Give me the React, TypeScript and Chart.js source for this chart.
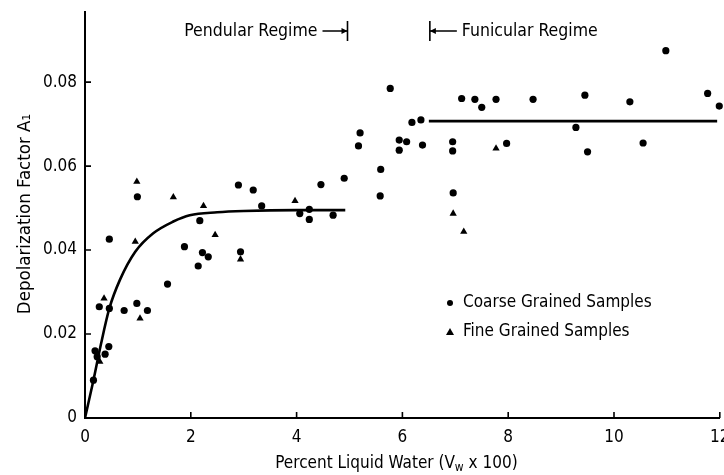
import React, { useEffect, useRef } from 'react';
import { Chart, registerables } from 'chart.js';

Chart.register(...registerables);

// ---- Data ----
const xTicks = [0, 2, 4, 6, 8, 10, 12];
const yTicks = [0, 0.02, 0.04, 0.06, 0.08];

const coarseX = [
  0.16, 0.19, 0.23, 0.38, 0.45, 0.27, 0.46, 0.74, 0.98, 1.18,
  0.46, 0.99, 1.56, 1.88, 2.14, 2.22, 2.33, 2.17, 2.9, 3.18,
  2.94, 3.34, 4.06, 4.24, 4.24, 4.69, 4.46, 4.9, 5.2, 5.17,
  5.59, 5.58, 5.77, 5.94, 6.08, 5.94, 6.38, 6.18, 6.35, 6.95,
  6.95, 6.96, 7.12, 7.37, 7.5, 7.77, 8.47, 9.45, 10.3, 10.98,
  11.77, 11.99, 9.28, 7.97, 9.5, 10.55,
];
const coarseY = [
  0.009, 0.016, 0.0146, 0.0152, 0.017, 0.0265, 0.0261, 0.0256, 0.0273, 0.0256,
  0.0426, 0.0527, 0.0319, 0.0408, 0.0362, 0.0394, 0.0384, 0.047, 0.0555, 0.0543,
  0.0396, 0.0505, 0.0487, 0.0497, 0.0473, 0.0483, 0.0556, 0.0571, 0.0679, 0.0648,
  0.0592, 0.0529, 0.0785, 0.0662, 0.0658, 0.0638, 0.065, 0.0704, 0.071, 0.0658,
  0.0636, 0.0536, 0.0761, 0.0759, 0.074, 0.0759, 0.0759, 0.0769, 0.0753, 0.0875,
  0.0773, 0.0743, 0.0692, 0.0654, 0.0634, 0.0655,
];

const fineX = [0.28, 0.36, 0.95, 0.98, 1.04, 1.67, 2.24, 2.46, 2.94, 3.97, 6.96, 7.16, 7.77];
const fineY = [0.0134, 0.0285, 0.042, 0.0563, 0.0237, 0.0526, 0.0505, 0.0436, 0.0378, 0.0517, 0.0487, 0.0444, 0.0642];

const pendularX = [0, 0.16, 0.3, 0.46, 0.66, 0.95, 1.29, 1.67, 1.98, 2.5, 3.0, 4.0, 4.92];
const pendularY = [0, 0.009, 0.0175, 0.0261, 0.0329, 0.0396, 0.044, 0.0468, 0.0483, 0.049, 0.0493, 0.0495, 0.0495];

const funicularX = [6.5, 11.95];
const funicularY = [0.0707, 0.0707];

const pendularEnd = 5;
const funicularStart = 6.5;

const FONT = '"DejaVu Sans Condensed", "Liberation Sans Narrow", "DejaVu Sans", sans-serif';

const toPts = (xs: number[], ys: number[]) => xs.map((v, i) => ({ x: v, y: ys[i] }));

const annotPlugin = {
  id: 'annot',
  afterDraw(chart: any) {
    const { ctx, chartArea, scales } = chart;
    const x = scales.x;
    const y = scales.y;
    ctx.save();
    ctx.strokeStyle = '#000';
    ctx.fillStyle = '#000';
    ctx.lineWidth = 1.6;

    // inward tick marks
    ctx.beginPath();
    for (const v of xTicks.slice(1)) {
      const px = x.getPixelForValue(v);
      ctx.moveTo(px, chartArea.bottom);
      ctx.lineTo(px, chartArea.bottom - 6);
    }
    for (const v of yTicks.slice(1)) {
      const py = y.getPixelForValue(v);
      ctx.moveTo(chartArea.left, py);
      ctx.lineTo(chartArea.left + 6, py);
    }
    ctx.stroke();

    // regime annotations
    ctx.font = `17.5px ${FONT}`;
    ctx.textBaseline = 'middle';
    const ty = chartArea.top + 19;
    const pX = x.getPixelForValue(pendularEnd) - 2;
    ctx.textAlign = 'right';
    ctx.fillText('Pendular Regime', pX - 30, ty);
    ctx.beginPath();
    ctx.moveTo(pX - 25, ty);
    ctx.lineTo(pX, ty);
    ctx.moveTo(pX, ty - 10);
    ctx.lineTo(pX, ty + 10);
    ctx.stroke();
    ctx.beginPath();
    ctx.moveTo(pX, ty);
    ctx.lineTo(pX - 6, ty - 3);
    ctx.lineTo(pX - 6, ty + 3);
    ctx.closePath();
    ctx.fill();

    const fX = x.getPixelForValue(funicularStart) + 1;
    ctx.beginPath();
    ctx.moveTo(fX, ty - 10);
    ctx.lineTo(fX, ty + 10);
    ctx.moveTo(fX, ty);
    ctx.lineTo(fX + 27, ty);
    ctx.stroke();
    ctx.beginPath();
    ctx.moveTo(fX, ty);
    ctx.lineTo(fX + 6, ty - 3);
    ctx.lineTo(fX + 6, ty + 3);
    ctx.closePath();
    ctx.fill();
    ctx.textAlign = 'left';
    ctx.fillText('Funicular Regime', fX + 32, ty);

    // legend
    const lx = chartArea.left + 365;
    const ly1 = chartArea.top + 291;
    const ly2 = chartArea.top + 320;
    ctx.beginPath();
    ctx.arc(lx, ly1, 3, 0, Math.PI * 2);
    ctx.fill();
    ctx.beginPath();
    ctx.moveTo(lx, ly2 - 4);
    ctx.lineTo(lx + 4, ly2 + 3);
    ctx.lineTo(lx - 4, ly2 + 3);
    ctx.closePath();
    ctx.fill();
    ctx.font = `17px ${FONT}`;
    ctx.fillText('Coarse Grained Samples', lx + 13, ly1);
    ctx.fillText('Fine Grained Samples', lx + 13, ly2);

    // x axis title with subscript
    const cx = (chartArea.left + chartArea.right) / 2 - 6;
    const tyx = chartArea.bottom + 46;
    const p1 = 'Percent Liquid Water (V';
    const p2 = 'w';
    const p3 = ' x 100)';
    ctx.font = `17px ${FONT}`;
    const w1 = ctx.measureText(p1).width;
    const w3 = ctx.measureText(p3).width;
    ctx.font = `12px ${FONT}`;
    const w2 = ctx.measureText(p2).width;
    let sx = cx - (w1 + w2 + w3) / 2;
    ctx.textAlign = 'left';
    ctx.font = `17px ${FONT}`;
    ctx.fillText(p1, sx, tyx);
    sx += w1;
    ctx.font = `12px ${FONT}`;
    ctx.fillText(p2, sx, tyx + 4);
    sx += w2;
    ctx.font = `17px ${FONT}`;
    ctx.fillText(p3, sx, tyx);

    // y axis title
    ctx.save();
    ctx.translate(25, 214);
    ctx.rotate(-Math.PI / 2);
    ctx.textAlign = 'center';
    ctx.font = `18.5px ${FONT}`;
    ctx.fillText('Depolarization Factor A\u2081', 0, 0);
    ctx.restore();

    ctx.restore();
  },
};

export default function App() {
  const ref = useRef<HTMLCanvasElement | null>(null);

  useEffect(() => {
    document.body.style.margin = '0';
    const canvas = ref.current;
    if (!canvas) return;
    const tickFont = { family: FONT, size: 17 };
    const chart = new Chart(canvas, {
      type: 'scatter',
      data: {
        datasets: [
          {
            label: 'Pendular',
            data: toPts(pendularX, pendularY),
            showLine: true,
            borderColor: '#000',
            borderWidth: 2.6,
            pointRadius: 0,
            cubicInterpolationMode: 'monotone',
          },
          {
            label: 'Funicular',
            data: toPts(funicularX, funicularY),
            showLine: true,
            borderColor: '#000',
            borderWidth: 2.6,
            pointRadius: 0,
          },
          {
            label: 'Coarse Grained Samples',
            data: toPts(coarseX, coarseY),
            pointStyle: 'circle',
            pointRadius: 3.6,
            backgroundColor: '#000',
            borderColor: '#000',
            borderWidth: 0,
            clip: false,
          },
          {
            label: 'Fine Grained Samples',
            data: toPts(fineX, fineY),
            pointStyle: 'triangle',
            pointRadius: 4.2,
            backgroundColor: '#000',
            borderColor: '#000',
            borderWidth: 0,
            clip: false,
          },
        ],
      } as any,
      options: {
        animation: false,
        responsive: false,
        maintainAspectRatio: false,
        layout: { padding: { top: 12, right: 4, left: 0, bottom: 0 } },
        plugins: { legend: { display: false }, tooltip: { enabled: false } },
        scales: {
          x: {
            type: 'linear',
            min: 0,
            max: 12,
            afterBuildTicks: (s: any) => {
              s.ticks = xTicks.map((v) => ({ value: v }));
            },
            afterFit: (s: any) => {
              s.height = 57;
              s.paddingLeft = 0;
              s.paddingRight = 0;
            },
            grid: { display: false, drawTicks: false },
            border: { display: true, color: '#000', width: 2 },
            ticks: {
              padding: 9,
              font: tickFont,
              color: '#000',
              maxRotation: 0,
              callback: (v: any) => String(v),
            },
          },
          y: {
            type: 'linear',
            min: 0,
            max: 0.0967,
            afterBuildTicks: (s: any) => {
              s.ticks = yTicks.map((v) => ({ value: v }));
            },
            afterFit: (s: any) => {
              s.width = 85;
              s.paddingTop = 0;
              s.paddingBottom = 0;
            },
            grid: { display: false, drawTicks: false },
            border: { display: true, color: '#000', width: 2 },
            ticks: {
              padding: 8,
              font: tickFont,
              color: '#000',
              callback: (v: any) => (Number(v) === 0 ? '0' : Number(v).toFixed(2)),
            },
          },
        },
      } as any,
      plugins: [annotPlugin],
    });
    return () => chart.destroy();
  }, []);

  return (
    <div style={{ width: 724, height: 475, background: '#fff' }}>
      <canvas ref={ref} width={724} height={475} style={{ display: 'block' }} />
    </div>
  );
}
